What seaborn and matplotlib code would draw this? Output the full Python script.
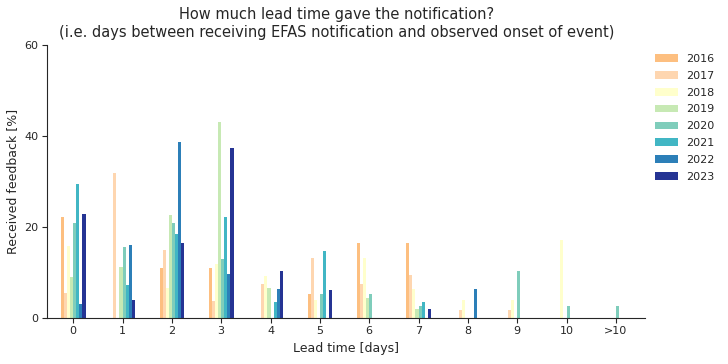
import pandas as pd
import numpy as np
import matplotlib
matplotlib.use("Agg")
import matplotlib.pyplot as plt
import seaborn as sns

# lead time categories (days)
lead_times = ["0", "1", "2", "3", "4", "5", "6", "7", "8", "9", "10", ">10"]
years = ["2016", "2017", "2018", "2019", "2020", "2021", "2022", "2023"]

# received feedback [%] per year, one value per lead time category
v2016 = [22.2, 0, 11.0, 11.0, 0, 5.4, 16.6, 16.6, 0, 0, 0, 0]
v2017 = [5.5, 32.0, 15.0, 3.7, 7.4, 13.2, 7.4, 9.4, 1.7, 1.7, 0, 0]
v2018 = [15.8, 0, 6.6, 11.8, 9.2, 3.9, 13.2, 6.5, 3.9, 3.9, 17.2, 0]
v2019 = [9.0, 11.2, 22.7, 43.2, 6.7, 0, 4.5, 2.1, 0, 0, 0, 0]
v2020 = [21.0, 15.7, 21.0, 13.0, 0, 5.2, 5.2, 2.6, 0, 10.4, 2.6, 2.6]
v2021 = [29.5, 7.3, 18.5, 22.2, 3.5, 14.7, 0, 3.6, 0, 0, 0, 0]
v2022 = [3.2, 16.0, 38.8, 9.6, 6.4, 0, 0, 0, 6.4, 0, 0, 0]
v2023 = [22.9, 4.0, 16.6, 37.4, 10.4, 6.2, 0, 1.9, 0, 0, 0, 0]

colors = ["#fdbf80", "#fed6b0", "#ffffcc", "#c7e9b4",
          "#7fcdbb", "#41b6c4", "#2c7fb8", "#253494"]

values = [v2016, v2017, v2018, v2019, v2020, v2021, v2022, v2023]
rows = []
for y, vals in zip(years, values):
    for lt, v in zip(lead_times, vals):
        rows.append({"Lead time": lt, "Year": y, "Feedback": v})
df = pd.DataFrame(rows)

sns.set_style("ticks")
plt.rcParams['font.family'] = ['DejaVu Sans']

fig = plt.figure(figsize=(7.28, 3.64), dpi=100)
ax = fig.add_axes([0.0646, 0.126, 0.822, 0.75])

sns.barplot(data=df, x="Lead time", y="Feedback", hue="Year",
            order=lead_times, hue_order=years, palette=colors,
            width=0.5, saturation=1, errorbar=None, linewidth=0, ax=ax)

ax.set_ylim(0, 60)
ax.set_yticks([0, 20, 40, 60])
ax.set_xlim(-0.53, 11.6)
ax.tick_params(labelsize=8, length=3.5, pad=2.5)
ax.set_xlabel("Lead time [days]", fontsize=9)
ax.set_ylabel("Received feedback [%]", fontsize=9)
ax.set_title("How much lead time gave the notification?\n"
             "(i.e. days between receiving EFAS notification and observed onset of event)",
             fontsize=10.5, pad=6, x=0.484)
sns.despine(ax=ax)

ax.legend(loc="upper left", bbox_to_anchor=(1.0, 1.005), frameon=False,
          fontsize=8, title=None, labelspacing=0.62)

fig.savefig("out.png", dpi=100)
